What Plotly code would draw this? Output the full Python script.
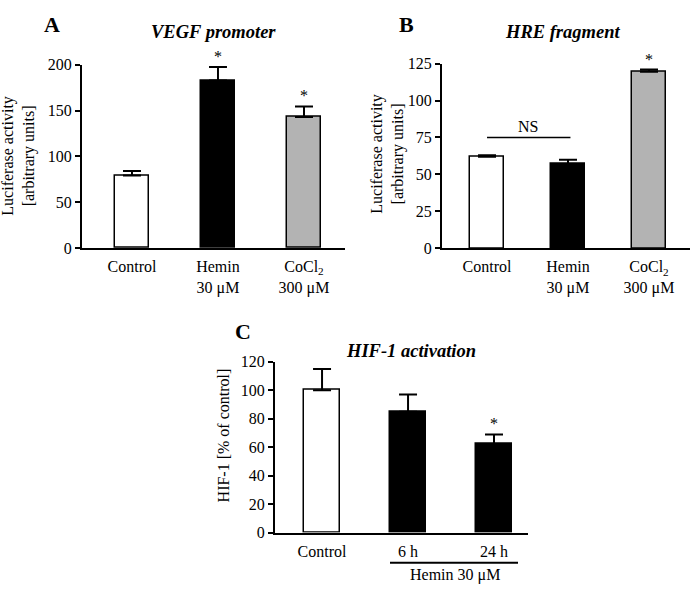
import plotly.graph_objects as go

W, H = 691, 594

# ---------------- data ----------------
cats_a = ["Control", "Hemin<br>30 μM", "CoCl<sub>2</sub><br>300 μM"]
vals_a = [79, 183, 143]
errs_a = [5, 14.5, 11.5]
ticks_a = [0, 50, 100, 150, 200]

cats_b = ["Control", "Hemin<br>30 μM", "CoCl<sub>2</sub><br>300 μM"]
vals_b = [62, 57, 119.5]
errs_b = [1, 3, 1.5]
ticks_b = [0, 25, 50, 75, 100, 125]
ns_level = 75

cats_c = ["Control", "6 h", "24 h"]
vals_c = [100, 85, 62]
errs_c = [15, 12, 7]
ticks_c = [0, 20, 40, 60, 80, 100, 120]

colors_abc = ["white", "black", "#b3b3b3"]
colors_c = ["white", "black", "black"]

FONT = "Liberation Serif"


def px(x):
    return x / W


def py(y):
    return 1 - y / H


fig = go.Figure()

err_style = dict(type="data", symmetric=False, color="black", thickness=2, width=9)

fig.add_trace(go.Bar(x=cats_a, y=vals_a, width=0.395, xaxis="x", yaxis="y",
                     marker=dict(color=colors_abc, line=dict(color="black", width=1.5)),
                     error_y=dict(array=errs_a, arrayminus=[0] * 3, **err_style)))
fig.add_trace(go.Bar(x=cats_b, y=vals_b, width=0.43, xaxis="x2", yaxis="y2",
                     marker=dict(color=colors_abc, line=dict(color="black", width=1.5)),
                     error_y=dict(array=errs_b, arrayminus=[0] * 3, **err_style)))
fig.add_trace(go.Bar(x=cats_c, y=vals_c, width=0.41, xaxis="x3", yaxis="y3",
                     marker=dict(color=colors_c, line=dict(color="black", width=1.5)),
                     error_y=dict(array=errs_c, arrayminus=[0] * 3, **err_style)))

tickfont = dict(family=FONT, size=16, color="black")
labfont = dict(family=FONT, size=16, color="black")


def xax(domain, rng):
    return dict(domain=domain, range=rng, type="category", showline=True, linewidth=2,
                linecolor="black", ticks="", showgrid=False, zeroline=False,
                tickfont=labfont, ticklabelstandoff=3, fixedrange=True)


def yax(domain, rng, tv, anchor):
    return dict(domain=domain, range=rng, anchor=anchor, showline=True, linewidth=2,
                linecolor="black", ticks="outside", ticklen=5, tickwidth=2,
                tickcolor="black", tickvals=tv, showgrid=False, zeroline=False,
                tickfont=tickfont, fixedrange=True)


fig.update_layout(
    width=W, height=H, margin=dict(l=0, r=0, t=0, b=0),
    paper_bgcolor="white", plot_bgcolor="white", showlegend=False, bargap=0,
    xaxis=xax([px(82), px(345)], [-0.581, 2.477]) | dict(anchor="y"),
    yaxis=yax([py(247), py(58.5)], [0, 200], ticks_a, "x"),
    xaxis2=xax([px(442), px(690)], [-0.556, 2.506]) | dict(anchor="y2"),
    yaxis2=yax([py(247.3), py(57.3)], [0, 125], ticks_b, "x2"),
    xaxis3=xax([px(275), px(528)], [-0.547, 2.395]) | dict(anchor="y3"),
    yaxis3=yax([py(540), py(364.3)], [0, 120], ticks_c, "x3"),
)

ann = []


def note(text, x, y, size, angle=0):
    return dict(text=text, x=px(x), y=py(y), xref="paper", yref="paper",
                xanchor="center", yanchor="middle", showarrow=False, textangle=angle,
                font=dict(family=FONT, size=size, color="black"))


# panel letters
for letter, x, y in [("A", 52, 17), ("B", 407, 17), ("C", 243, 333)]:
    ann.append(note(f"<b>{letter}</b>", x, y, 22))
# panel titles
for title, x, y in [("VEGF promoter", 213, 25), ("HRE fragment", 562, 25),
                    ("HIF-1 activation", 411, 353)]:
    ann.append(note(f"<b><i>{title}</i></b>", x, y, 18.5))
# y axis titles
ann.append(note("Luciferase activity<br>[arbitrary units]", 19, 152, 16, -90))
ann.append(note("Luciferase activity<br>[arbitrary units]", 388, 150, 16, -90))
ann.append(note("HIF-1 [% of control]", 223, 440, 16, -90))


# significance asterisks
def star(xref, yref, cat, top):
    return dict(text="*", x=cat, y=top, xref=xref, yref=yref, showarrow=False,
                xanchor="center", yanchor="bottom", yshift=0,
                font=dict(family=FONT, size=16, color="black"))


ann.append(star("x", "y", cats_a[1], vals_a[1] + errs_a[1]))
ann.append(star("x", "y", cats_a[2], vals_a[2] + errs_a[2]))
ann.append(star("x2", "y2", cats_b[2], vals_b[2] + errs_b[2]))
ann.append(star("x3", "y3", cats_c[2], vals_c[2] + errs_c[2]))

# NS label
ann.append(dict(text="NS", x=0.5, y=ns_level, xref="x2", yref="y2", showarrow=False,
                xanchor="center", yanchor="bottom", yshift=0,
                font=dict(family=FONT, size=16, color="black")))
# Hemin bracket label
ann.append(note("Hemin 30 μM", 455, 584, 16))

fig.update_layout(annotations=ann)

fig.add_shape(type="line", xref="x2", yref="y2", x0=0, x1=1.03, y0=ns_level, y1=ns_level,
              line=dict(color="black", width=1.5))
fig.add_shape(type="line", xref="paper", yref="paper", x0=px(390), x1=px(518),
              y0=py(571), y1=py(571), line=dict(color="black", width=2))

fig.write_html(
    "out.html",
    config={"displayModeBar": False},
    post_script="document.body.style.margin='0';document.body.style.overflow='hidden';",
)
